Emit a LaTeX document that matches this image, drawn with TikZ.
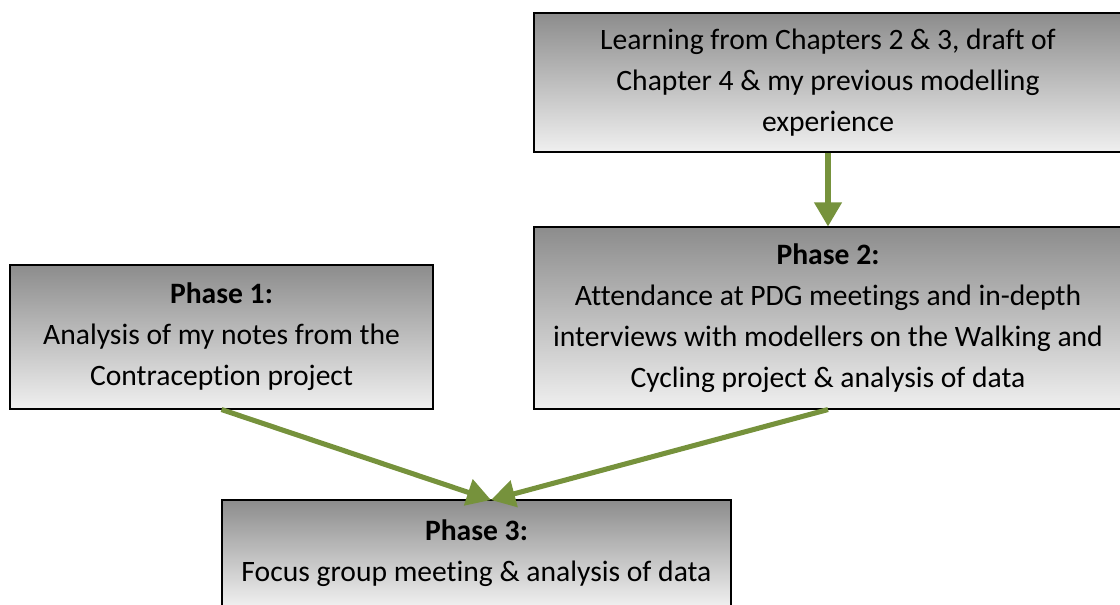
\documentclass[tikz,border=0pt]{standalone}
\usepackage{fontspec}
\setmainfont{Carlito}[Ligatures=CommonOff]
\usetikzlibrary{arrows.meta}
\definecolor{arrowgreen}{HTML}{76923C}
\tikzset{
  phasebox/.style={draw=black, line width=0.8pt, rectangle, inner sep=0pt,
    top color=black!45, bottom color=black!6, align=center,
    font=\fontsize{22.2pt}{30.75pt}\selectfont},
  flow/.style={draw=arrowgreen, line width=3.8pt,
    -{Triangle[width=20pt,length=18pt]}, arrowgreen}
}
\begin{document}
\begin{tikzpicture}[x=0.75pt,y=-0.75pt]
\useasboundingbox (0,0) rectangle (1120,604);
\clip (0,0) rectangle (1120,604);
\node[phasebox, minimum width=441pt, minimum height=104.25pt] (top) at (828,82.5)
  {Learning from Chapters 2 \& 3, draft of\\Chapter 4 \& my previous modelling\\experience};
\node[phasebox, minimum width=441pt, minimum height=136.5pt] (p2) at (828,318)
  {\textbf{Phase 2:}\\Attendance at PDG meetings and in-depth\\interviews with modellers on the Walking and\\Cycling project \& analysis of data};
\node[phasebox, minimum width=317.25pt, minimum height=108pt] (p1) at (221.5,337)
  {\textbf{Phase 1:}\\Analysis of my notes from the\\Contraception project};
\node[phasebox, minimum width=381.75pt, minimum height=79.5pt] (p3) at (476.5,553)
  {\textbf{Phase 3:}\\Focus group meeting \& analysis of data};
\coordinate (meet) at (491,500);
\draw[flow] (top.south) -- (p2.north);
\draw[flow] (p1.south) -- (meet);
\draw[flow] (p2.south) -- (meet);
\end{tikzpicture}
\end{document}
